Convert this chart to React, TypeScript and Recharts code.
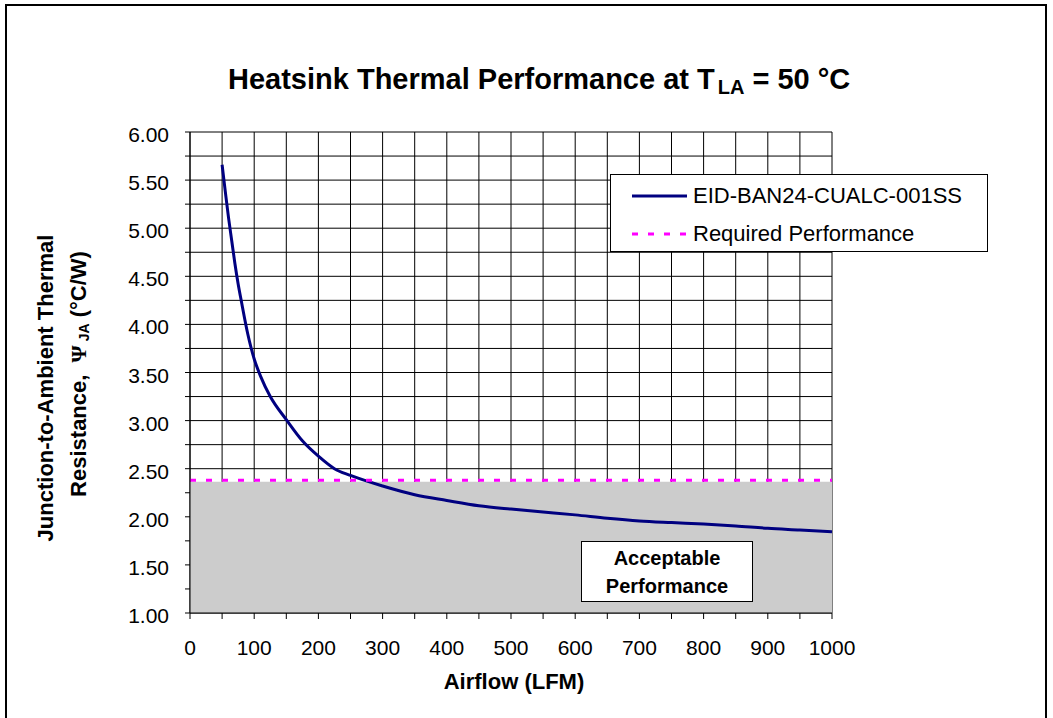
import React from 'react';
import {
  LineChart, Line, XAxis, YAxis, CartesianGrid, ReferenceArea, Legend,
} from 'recharts';

const airflow = [50, 55, 60, 65, 70, 75, 80, 90, 100, 110, 125, 150, 175, 200, 225, 250, 300, 350, 400, 450, 500, 550, 600, 650, 700, 750, 800, 850, 900, 950, 1000];
const psiJA = [5.66, 5.38, 5.11, 4.87, 4.63, 4.42, 4.24, 3.9, 3.64, 3.46, 3.25, 3.01, 2.79, 2.63, 2.5, 2.43, 2.32, 2.23, 2.17, 2.115, 2.08, 2.05, 2.02, 1.985, 1.957, 1.94, 1.925, 1.905, 1.88, 1.863, 1.845];
const requiredX = [0, 1000];
const requiredPsi = 2.38;
const acceptableTop = 2.365;
const xTicks = Array.from({ length: 21 }, (_, i) => i * 50);
const yTicks = Array.from({ length: 21 }, (_, i) => 1 + i * 0.25);

const seriesName = 'EID-BAN24-CUALC-001SS';
const requiredName = 'Required Performance';

const curveData = airflow.map((x, i) => ({ x, psi: psiJA[i] }));
const requiredData = requiredX.map((x) => ({ x, psi: requiredPsi }));

const FONT = '"Liberation Sans", Arial, sans-serif';

const XTick = (props: any) => {
  const { x, y, payload } = props;
  if (payload.value % 100 !== 0) return null;
  return (
    <text x={x} y={y} dy="0.71em" textAnchor="middle" fontFamily={FONT} fontSize={21} fill="#000">
      {payload.value}
    </text>
  );
};

const YTick = (props: any) => {
  const { x, y, payload } = props;
  if (Math.round(payload.value * 100) % 50 !== 0) return null;
  return (
    <text x={x} y={y} dy={10} textAnchor="end" fontFamily={FONT} fontSize={21} fill="#000">
      {payload.value.toFixed(2)}
    </text>
  );
};

const LegendBox = (props: any) => {
  const { payload } = props;
  const dashes: Record<string, string | undefined> = { [requiredName]: '6 10' };
  return (
    <div style={{ width: 376, height: 76, border: '1px solid #000', background: '#fff', position: 'relative', fontFamily: FONT }}>
      {(payload || []).map((p: any, i: number) => (
        <div key={p.value} style={{ position: 'absolute', left: 0, top: 21 + i * 38 - 13, height: 26, display: 'flex', alignItems: 'center' }}>
          <svg width={80} height={26} style={{ display: 'block' }}>
            <line x1={21} x2={76} y1={13} y2={13} stroke={p.color} strokeWidth={3} strokeDasharray={dashes[p.value]} />
          </svg>
          <span style={{ fontSize: 22, color: '#000', marginLeft: 2, whiteSpace: 'nowrap' }}>{p.value}</span>
        </div>
      ))}
    </div>
  );
};

export default function App() {
  return (
    <div style={{ position: 'absolute', left: 0, top: 0, width: 1053, height: 718, background: '#fff', overflow: 'hidden' }}>
      <div style={{ position: 'absolute', left: 5, top: 4, width: 1038, height: 730, border: '2px solid #000' }} />
      <div style={{ position: 'absolute', left: 228, top: 63, whiteSpace: 'nowrap', fontFamily: FONT, fontWeight: 'bold', fontSize: 29, lineHeight: '33px', color: '#000' }}>
        Heatsink Thermal Performance at T<sub style={{ fontSize: 20, verticalAlign: '-5px', marginLeft: 3 }}>LA</sub> = 50 °C
      </div>
      <div style={{ position: 'absolute', left: 0, top: 0 }}>
        <LineChart width={1053} height={718} margin={{ top: 132, right: 221, bottom: 45, left: 130 }}>
          <ReferenceArea x1={0} x2={1000} y1={1} y2={acceptableTop} fill="#CCCCCC" fillOpacity={1} stroke="none" ifOverflow="hidden" />
          <CartesianGrid stroke="#000" strokeWidth={1} horizontalValues={yTicks} verticalValues={xTicks} />
          <XAxis
            dataKey="x"
            type="number"
            domain={[0, 1000]}
            ticks={xTicks}
            interval={0}
            height={60}
            tickSize={6}
            tickMargin={21}
            axisLine={{ stroke: '#000' }}
            tickLine={{ stroke: '#000' }}
            tick={<XTick />}
            allowDataOverflow
            label={{
              content: () => (
                <text x={514} y={689} textAnchor="middle" fontFamily={FONT} fontWeight="bold" fontSize={22} fill="#000">
                  Airflow (LFM)
                </text>
              ),
            }}
          />
          <YAxis
            type="number"
            domain={[1, 6]}
            ticks={yTicks}
            interval={0}
            width={60}
            tickSize={5}
            tickMargin={16}
            axisLine={{ stroke: '#000' }}
            tickLine={{ stroke: '#000' }}
            tick={<YTick />}
            allowDataOverflow
            label={{
              content: () => (
                <g fontFamily={FONT} fontWeight="bold" fontSize={22} fill="#000">
                  <text x={0} y={0} textAnchor="middle" transform="translate(53,388) rotate(-90)">
                    Junction-to-Ambient Thermal
                  </text>
                  <text x={0} y={0} textAnchor="middle" transform="translate(86,374) rotate(-90)">
                    Resistance,{'\u00A0\u00A0'}
                    <tspan fontFamily='"Liberation Serif", "DejaVu Serif", serif'>Ψ</tspan>
                    <tspan fontSize={14} dy={3}>{'\u00A0'}JA</tspan>
                    <tspan dy={-3}> (°C/W)</tspan>
                  </text>
                </g>
              ),
            }}
          />
          <Legend
            layout="horizontal"
            verticalAlign="middle"
            align="center"
            content={<LegendBox />}
            wrapperStyle={{ position: 'absolute', left: 610, top: 174, width: 378, height: 78 }}
          />
          <Line
            data={curveData}
            dataKey="psi"
            name={seriesName}
            type="monotone"
            stroke="#000080"
            strokeWidth={3}
            dot={false}
            activeDot={false}
            isAnimationActive={false}
          />
          <Line
            data={requiredData}
            dataKey="psi"
            name={requiredName}
            type="linear"
            stroke="#FF00FF"
            strokeWidth={3}
            strokeDasharray="6 10"
            dot={false}
            activeDot={false}
            isAnimationActive={false}
          />
        </LineChart>
      </div>
      <div style={{ position: 'absolute', left: 581, top: 541, width: 170, height: 59, border: '1px solid #000', background: '#fff', fontFamily: FONT, fontWeight: 'bold', fontSize: 20, lineHeight: '28px', textAlign: 'center', display: 'flex', flexDirection: 'column', justifyContent: 'center' }}>
        <div>Acceptable</div>
        <div>Performance</div>
      </div>
    </div>
  );
}
